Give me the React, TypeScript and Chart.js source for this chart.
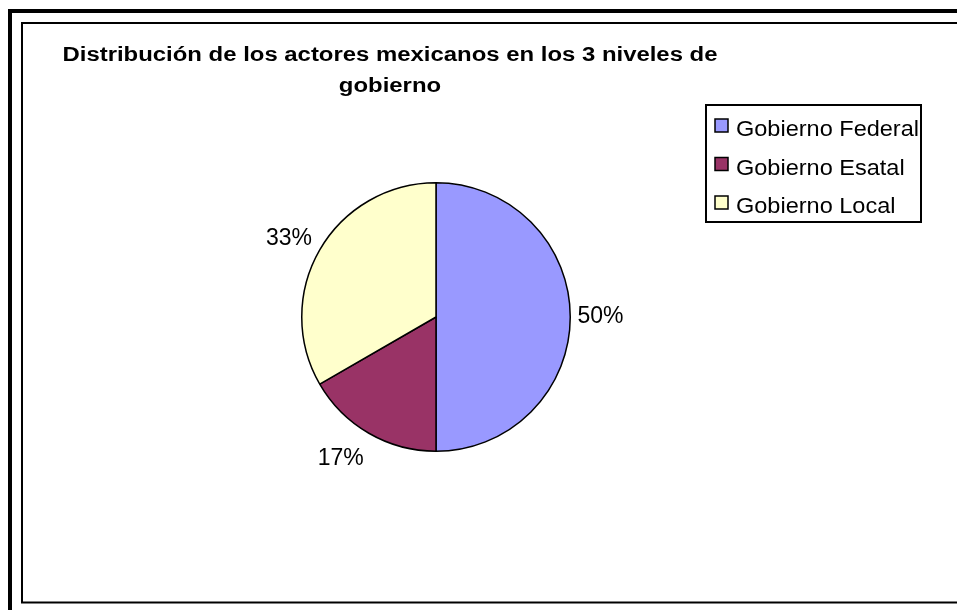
import React, { useEffect, useRef } from "react";
import { Chart, registerables } from "chart.js";

Chart.register(...registerables);

const categories = ["Gobierno Federal", "Gobierno Esatal", "Gobierno Local"];
const values = [3, 1, 2];
const sliceColors = ["#9999FF", "#993366", "#FFFFCC"];
const titleLines = ["Distribución de los actores mexicanos en los 3 niveles de", "gobierno"];

const W = 957;
const H = 610;

function stretchedText(ctx: CanvasRenderingContext2D, text: string, x: number, y: number, sx: number, align: "left" | "center") {
  ctx.save();
  const w = ctx.measureText(text).width * sx;
  const left = align === "center" ? x - w / 2 : x;
  ctx.translate(left, y);
  ctx.scale(sx, 1);
  ctx.textAlign = "left";
  ctx.fillText(text, 0, 0);
  ctx.restore();
}

const decorPlugin = {
  id: "decor",
  beforeDraw(chart: any) {
    const ctx: CanvasRenderingContext2D = chart.ctx;
    ctx.save();
    ctx.fillStyle = "#ffffff";
    ctx.fillRect(0, 0, W, H);
    ctx.strokeStyle = "#000000";
    ctx.lineWidth = 4;
    ctx.strokeRect(10, 11, W + 20, H + 20);
    ctx.lineWidth = 2;
    ctx.beginPath();
    ctx.moveTo(W + 10, 23);
    ctx.lineTo(22, 23);
    ctx.lineTo(22, 602.5);
    ctx.lineTo(W + 10, 602.5);
    ctx.stroke();
    ctx.restore();
  },
  afterDraw(chart: any) {
    const ctx: CanvasRenderingContext2D = chart.ctx;
    ctx.save();
    // title
    ctx.fillStyle = "#000000";
    ctx.textBaseline = "alphabetic";
    ctx.font = "bold 20px 'Liberation Sans', Arial, sans-serif";
    const titleSx = 655 / ctx.measureText(titleLines[0]).width;
    stretchedText(ctx, titleLines[0], 390, 61, titleSx, "center");
    stretchedText(ctx, titleLines[1], 390, 92, titleSx, "center");

    // legend
    ctx.lineWidth = 2;
    ctx.strokeStyle = "#000";
    ctx.strokeRect(706, 105, 215, 117);
    ctx.font = "22px 'Liberation Sans', Arial, sans-serif";
    const legSx = 183 / ctx.measureText(categories[0]).width;
    categories.forEach((c, i) => {
      const y = 119 + i * 38.5;
      ctx.fillStyle = sliceColors[i];
      ctx.fillRect(715, y, 13, 13);
      ctx.lineWidth = 1.5;
      ctx.strokeRect(715, y, 13, 13);
      ctx.fillStyle = "#000";
      stretchedText(ctx, c, 736, y + 17, legSx, "left");
    });

    // percentage labels
    const meta = chart.getDatasetMeta(0);
    const total = values.reduce((a, b) => a + b, 0);
    const nudges = [0, 4, -2];
    const factors = [1.225, 1.27, 1.24];
    ctx.font = "23px 'Liberation Sans', Arial, sans-serif";
    ctx.textAlign = "center";
    ctx.textBaseline = "middle";
    meta.data.forEach((arc: any, i: number) => {
      const mid = (arc.startAngle + arc.endAngle) / 2 + (nudges[i] * Math.PI) / 180;
      const d = arc.outerRadius * factors[i];
      const x = arc.x + Math.cos(mid) * d;
      const y = arc.y + Math.sin(mid) * d;
      const pct = Math.round((values[i] / total) * 100) + "%";
      ctx.fillText(pct, x, y);
    });
    ctx.restore();
  },
};

export default function App() {
  const ref = useRef<HTMLCanvasElement>(null);
  useEffect(() => {
    if (!ref.current) return;
    const chart = new Chart(ref.current, {
      type: "pie",
      data: {
        labels: categories,
        datasets: [
          {
            data: values,
            backgroundColor: sliceColors,
            borderColor: "#000000",
            borderWidth: 1.5,
            hoverOffset: 0,
            offset: 0,
          },
        ],
      },
      options: {
        responsive: false,
        animation: false,
        devicePixelRatio: 1,
        layout: { padding: { left: 301, top: 182, right: W - 571, bottom: H - 452 } },
        plugins: { legend: { display: false }, tooltip: { enabled: false }, title: { display: false } },
        events: [],
      },
      plugins: [decorPlugin],
    } as any);
    return () => chart.destroy();
  }, []);
  return (
    <div style={{ position: "fixed", left: 0, top: 0, width: W, height: H }}>
      <canvas ref={ref} width={W} height={H} style={{ width: W, height: H, display: "block" }} />
    </div>
  );
}
